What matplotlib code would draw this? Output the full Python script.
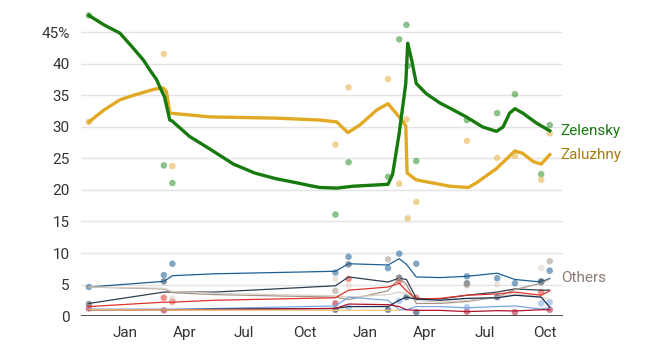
import matplotlib
matplotlib.use("Agg")
import matplotlib.pyplot as plt
import matplotlib.dates as mdates
import pandas as pd

plt.rcParams['font.family'] = ['Roboto', 'DejaVu Sans']

# ---- polls (scatter) ----
poll_dates = ['2022-11-07', '2023-03-01', '2023-03-14', '2023-11-17', '2023-12-07',
              '2024-02-05', '2024-02-22', '2024-03-04', '2024-03-06', '2024-03-19',
              '2024-06-04', '2024-07-20', '2024-08-16', '2024-09-25', '2024-10-08']
zelensky_polls = [47.7, 23.9, 21.1, 16.1, 24.4, 22.1, 43.9, 46.2, 39.7, 24.6,
                  31.1, 32.2, 35.2, 22.5, 30.3]
zaluzhny_polls = [30.8, 41.6, 23.8, 27.2, 36.3, 37.6, 21.0, 31.2, 15.5, 18.1,
                  27.8, 25.1, 25.4, 21.6, 29.0]

# ---- trend lines ----
zelensky_trend_dates = ['2022-11-07', '2022-11-30', '2022-12-24', '2023-01-11', '2023-01-29',
                        '2023-02-08', '2023-02-18', '2023-02-24', '2023-03-02', '2023-03-10',
                        '2023-03-13', '2023-04-09', '2023-05-10', '2023-06-15', '2023-07-17',
                        '2023-08-18', '2023-09-21', '2023-10-09', '2023-10-24', '2023-11-19',
                        '2023-12-14', '2024-02-05', '2024-02-12', '2024-02-22', '2024-03-03',
                        '2024-03-06', '2024-03-12', '2024-03-19', '2024-04-03', '2024-04-24',
                        '2024-05-09', '2024-06-03', '2024-06-28', '2024-07-19', '2024-07-29',
                        '2024-08-08', '2024-08-16', '2024-08-28', '2024-09-18', '2024-10-08']
zelensky_trend = [47.7, 46.2, 44.9, 42.8, 40.6, 39.0, 37.5, 36.1, 34.8, 31.1,
                  31.0, 28.5, 26.5, 24.1, 22.7, 21.8, 21.1, 20.7, 20.4, 20.3,
                  20.6, 20.9, 22.5, 29.0, 36.9, 43.3, 40.6, 36.9, 35.3, 33.8,
                  33.0, 31.6, 30.0, 29.3, 30.0, 32.2, 32.9, 32.2, 30.6, 29.4]

zaluzhny_trend_dates = ['2022-11-07', '2022-11-30', '2022-12-24', '2023-01-16', '2023-02-15',
                        '2023-02-28', '2023-03-05', '2023-03-10', '2023-05-10', '2023-08-19',
                        '2023-10-24', '2023-11-19', '2023-12-06', '2023-12-24', '2024-01-19',
                        '2024-02-05', '2024-02-22', '2024-03-03', '2024-03-05', '2024-03-19',
                        '2024-04-24', '2024-05-09', '2024-06-06', '2024-06-18', '2024-07-19',
                        '2024-08-16', '2024-08-28', '2024-09-13', '2024-09-25', '2024-10-08']
zaluzhny_trend = [30.8, 32.7, 34.3, 35.1, 36.0, 36.2, 35.6, 32.2, 31.6, 31.4,
                  31.1, 30.8, 29.1, 30.3, 32.7, 33.7, 31.6, 30.2, 22.7, 21.6,
                  20.9, 20.6, 20.4, 21.1, 23.4, 26.2, 25.8, 24.5, 24.1, 25.6]

# ---- other candidates ----
other_dates = ['2022-11-07', '2023-03-01', '2023-03-14', '2023-05-17', '2023-11-17',
               '2023-12-07', '2024-02-05', '2024-02-22', '2024-03-04', '2024-03-19',
               '2024-04-24', '2024-06-04', '2024-07-20', '2024-08-16', '2024-09-25',
               '2024-10-08']
others = {
    'blue':      [4.6, 5.5, 6.4, 6.7, 7.1, 8.3, 8.1, 9.1, 8.2, 6.2, 6.1, 6.3, 6.8, 5.8, 5.4, 6.0],
    'slate':     [2.0, 3.8, 3.8, 3.8, 4.8, 6.2, 5.4, 6.0, 5.8, 2.8, 2.7, 3.3, 3.8, 4.3, 4.1, 4.1],
    'greybrown': [4.6, 4.3, 3.7, 3.4, 3.0, 2.6, 4.0, 6.0, 5.0, 2.0, 2.0, 2.3, 3.0, 4.2, 5.2, 5.9],
    'beige':     [4.6, 4.4, 3.9, 3.6, 3.2, 3.0, 3.4, 3.8, 3.5, 2.5, 2.2, 2.5, 3.0, 3.5, 3.0, 2.6],
    'red':       [1.5, 2.2, 2.2, 2.5, 2.9, 4.1, 4.6, 5.2, 4.0, 2.7, 2.8, 3.3, 3.5, 3.8, 3.3, 4.0],
    'lightblue': [1.1, 1.1, 1.1, 1.2, 1.6, 3.0, 2.5, 1.0, 1.0, 1.5, 1.5, 1.3, 1.5, 1.6, 1.1, 1.3],
    'navy':      [1.0, 1.0, 1.0, 1.1, 1.2, 1.5, 1.5, 2.5, 3.0, 2.7, 2.5, 2.8, 2.9, 3.3, 3.0, 1.4],
    'darkred':   [1.0, 1.0, 1.0, 1.0, 1.2, 1.9, 1.8, 1.5, 1.0, 0.9, 0.9, 0.7, 0.85, 0.8, 1.0, 1.0],
}
other_colors = {
    'blue': '#1c5f96', 'slate': '#2f3f50', 'greybrown': '#a49488', 'beige': '#d9d0c6',
    'red': '#e0332b', 'lightblue': '#7aa6e4', 'navy': '#172e4e', 'darkred': '#b0122f',
}
gold_minor_dates = ['2022-11-07', '2023-11-17', '2024-02-22']
gold_minor = [1.0, 0.9, 0.9]

# a few poll dots for the minor candidates: (series, date, value)
other_polls = [
    ('blue', '2022-11-07', 4.6), ('blue', '2023-03-01', 6.5), ('blue', '2023-03-14', 8.3),
    ('blue', '2023-11-17', 6.9), ('blue', '2023-12-07', 9.4), ('blue', '2024-02-05', 7.6),
    ('blue', '2024-02-22', 9.9), ('blue', '2024-03-19', 8.3), ('blue', '2024-06-04', 6.3),
    ('blue', '2024-07-20', 6.0), ('blue', '2024-08-16', 5.2), ('blue', '2024-09-25', 5.4),
    ('blue', '2024-10-08', 7.2),
    ('slate', '2022-11-07', 1.9), ('slate', '2023-03-01', 5.5), ('slate', '2023-12-07', 8.2),
    ('slate', '2024-02-22', 6.1), ('slate', '2024-06-04', 5.2), ('slate', '2024-09-25', 5.5),
    ('red', '2023-03-01', 2.9), ('red', '2023-03-14', 2.3), ('red', '2023-12-07', 5.9),
    ('red', '2024-02-22', 5.6), ('red', '2024-03-19', 2.9), ('red', '2024-09-25', 3.8),
    ('greybrown', '2024-02-05', 9.0), ('greybrown', '2024-10-08', 8.7),
    ('greybrown', '2023-11-17', 4.0), ('greybrown', '2024-06-04', 4.9),
    ('beige', '2023-11-17', 5.9), ('beige', '2023-12-07', 4.8), ('beige', '2024-09-25', 7.6),
    ('beige', '2023-03-14', 2.8), ('beige', '2024-07-20', 5.0),
    ('darkred', '2022-11-07', 1.2), ('darkred', '2023-03-01', 0.9), ('darkred', '2023-11-17', 2.0),
    ('darkred', '2024-06-04', 0.7), ('darkred', '2024-08-16', 0.6), ('darkred', '2024-10-08', 1.0),
    ('navy', '2023-11-17', 1.0), ('navy', '2024-02-05', 1.0), ('navy', '2024-03-04', 3.0),
    ('navy', '2024-03-19', 0.6), ('navy', '2024-07-20', 3.0),
    ('lightblue', '2023-12-07', 1.3), ('lightblue', '2024-02-22', 2.4), ('lightblue', '2024-06-04', 1.4),
    ('lightblue', '2024-09-25', 2.0), ('lightblue', '2024-10-08', 2.2),
]

GREEN = '#177a0d'
GOLD = '#e2aa24'

fig = plt.figure(figsize=(6.63, 3.62), dpi=100)
ax = fig.add_axes([0.1222, 0.127, 0.7268, 0.853])

to_dt = pd.to_datetime

# minor candidates first (they sit under the two main lines)
for name, vals in others.items():
    ax.plot(to_dt(other_dates), vals, color=other_colors[name], lw=0.9, zorder=3)
ax.plot(to_dt(gold_minor_dates), gold_minor, color='#f0c878', lw=0.9, zorder=3)
for name, d, v in other_polls:
    ax.scatter(to_dt([d]), [v], s=22, color=other_colors[name], alpha=0.55,
               edgecolors='none', zorder=2)

ax.scatter(to_dt(poll_dates), zelensky_polls, s=22, color='#3c9a3a', alpha=0.6,
           edgecolors='none', zorder=4)
ax.scatter(to_dt(poll_dates), zaluzhny_polls, s=22, color='#ecc068', alpha=0.7,
           edgecolors='none', zorder=4)
ax.plot(to_dt(zaluzhny_trend_dates), zaluzhny_trend, color=GOLD, lw=2.4, zorder=5,
        solid_joinstyle='round')
ax.plot(to_dt(zelensky_trend_dates), zelensky_trend, color=GREEN, lw=2.4, zorder=6,
        solid_joinstyle='round')

# end labels
ax.annotate('Zelensky', (to_dt(zelensky_trend_dates[-1]), zelensky_trend[-1]),
            xytext=(8, 0), textcoords='offset points', va='center', ha='left',
            color=GREEN, fontsize=11, annotation_clip=False)
ax.annotate('Zaluzhny', (to_dt(zaluzhny_trend_dates[-1]), zaluzhny_trend[-1]),
            xytext=(8, 0), textcoords='offset points', va='center', ha='left',
            color='#a87a12', fontsize=11, annotation_clip=False)
ax.annotate('Others', (to_dt(other_dates[-1]), others['blue'][-1]),
            xytext=(8, 0), textcoords='offset points', va='center', ha='left',
            color='#8c7b72', fontsize=11, annotation_clip=False)

# axes styling
ax.set_xlim(to_dt('2022-10-26'), to_dt('2024-10-28'))
ax.set_ylim(0, 49)
yticks = list(range(0, 50, 5))
ax.set_yticks(yticks)
ax.set_yticklabels([f'{t}%' if t == 45 else str(t) for t in yticks])
for t in yticks[1:]:
    ax.axhline(t, color='#e3e3e3', lw=1, zorder=0)
ax.axhline(0, color='#333333', lw=1.2, zorder=7)

ax.xaxis.set_major_locator(mdates.MonthLocator(bymonth=[1, 4, 7, 10]))
ax.xaxis.set_major_formatter(mdates.DateFormatter('%b'))
ax.tick_params(axis='both', length=0, labelsize=11, colors='#333333')
ax.tick_params(axis='x', pad=7)
ax.tick_params(axis='y', pad=8)
for s in ax.spines.values():
    s.set_visible(False)

fig.savefig('out.png', dpi=100)
